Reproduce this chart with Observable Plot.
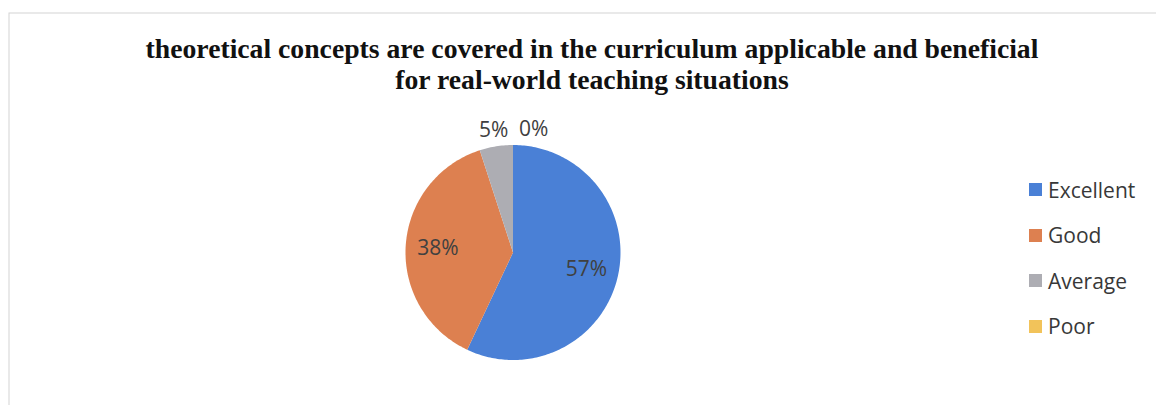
<!DOCTYPE html>
<html>
<head>
<meta charset="utf-8">
<script src="https://cdn.jsdelivr.net/npm/d3@7"></script>
<script src="https://cdn.jsdelivr.net/npm/@observablehq/plot@0.6"></script>
<style>
  html, body { margin: 0; padding: 0; background: #fff; }
  #wrap { position: relative; width: 1156px; height: 405px; overflow: hidden; }
  #legend { position: absolute; left: 1029px; top: 0; }
  .item { position: absolute; left: 0; height: 26px; display: flex; align-items: center; white-space: nowrap;
          font-family: "Open Sans", sans-serif; font-size: 21px; color: #383838; }
  .sw { width: 13px; height: 13px; margin-right: 6px; }
</style>
</head>
<body>
<div id="wrap"><div id="legend"></div></div>
<script>
const categories = ["Excellent", "Good", "Average", "Poor"];
const percents = [57, 38, 5, 0];
const colors = ["#4a80d6", "#dd8050", "#adadb3", "#f2c35a"];
const titleLines = [
  "theoretical concepts are covered in the curriculum applicable and beneficial",
  "for real-world teaching situations"
];

// pie geometry from the data (angles clockwise from 12 o'clock)
const arcs = d3.pie().sort(null).value(d => d)(percents);
const slices = [];
arcs.forEach((a, i) => {
  if (a.endAngle - a.startAngle <= 0) return;
  const cat = categories[i];
  const n = Math.max(2, Math.ceil((a.endAngle - a.startAngle) / (Math.PI / 180)));
  slices.push({cat, x: 0, y: 0});
  for (let k = 0; k <= n; k++) {
    const t = a.startAngle + (a.endAngle - a.startAngle) * k / n;
    slices.push({cat, x: Math.sin(t), y: Math.cos(t)});
  }
  slices.push({cat, x: 0, y: 0});
});

const labels = arcs.map((a, i) => {
  const mid = (a.startAngle + a.endAngle) / 2;
  const r = percents[i] >= 10 ? 0.7 : 1.15;
  return {text: percents[i] + "%", x: r * Math.sin(mid), y: r * Math.cos(mid), zero: percents[i] === 0};
});

const chart = Plot.plot({
  width: 1156,
  height: 405,
  margin: 0,
  x: {domain: [-1, 1], range: [405, 620], axis: null},
  y: {domain: [-1, 1], range: [359.5, 144.5], axis: null},
  color: {domain: categories, range: colors},
  style: {background: "#fff"},
  marks: [
    Plot.frame({stroke: "#d4d4d4", insetLeft: 8.5, insetTop: 12.5, insetRight: -5, insetBottom: -5}),
    Plot.line(slices, {x: "x", y: "y", z: "cat", fill: "cat", stroke: "none", curve: "linear"}),
    Plot.text(labels.filter(d => !d.zero), {x: "x", y: "y", text: "text", fill: "#404040",
      fontFamily: "Open Sans, sans-serif", fontSize: 21, textAnchor: "middle"}),
    Plot.text(labels.filter(d => d.zero), {x: "x", y: "y", text: "text", fill: "#404040",
      fontFamily: "Open Sans, sans-serif", fontSize: 21, textAnchor: "start", dx: 6}),
    Plot.text([titleLines.join("\n")], {frameAnchor: "top", text: d => d, lineAnchor: "top",
      lineHeight: 1.12, dx: 13.5, dy: 35, fill: "#111", fontFamily: "Liberation Serif, Times New Roman, serif",
      fontSize: 27.7, fontWeight: "bold", textAnchor: "middle"})
  ]
});
document.getElementById("wrap").prepend(chart);

// legend
const centers = [189.5, 235.5, 281, 326];
const leg = d3.select("#legend");
categories.forEach((c, i) => {
  const it = leg.append("div").attr("class", "item").style("top", (centers[0] + i * (centers[3] - centers[0]) / 3 - 13) + "px");
  it.append("div").attr("class", "sw").style("background", colors[i]);
  it.append("span").text(c);
});
</script>
</body>
</html>
